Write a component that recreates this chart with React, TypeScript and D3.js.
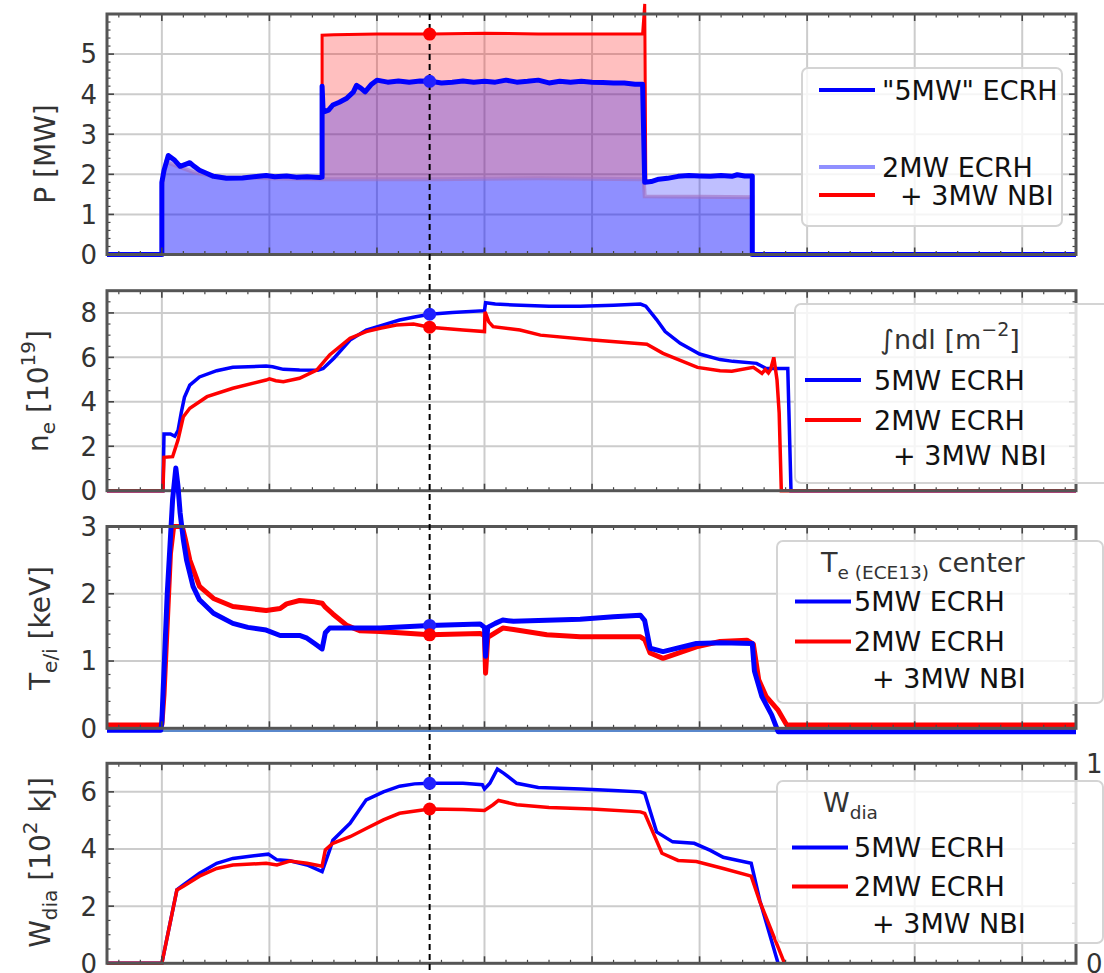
import React from "react";
import * as d3 from "d3";

type Pt = [number, number];

// ---------------- data ----------------
const markerTime = 2.49;
const xMajorTicks = [0, 1, 2, 3, 4, 5, 6, 7, 8];

// Panel 1: heating power [MW]
const pEcrh5: Pt[] = [
  [-0.51, 0], [0, 0], [0.0, 1.8], [0.02, 2.1], [0.06, 2.47], [0.12, 2.35], [0.17, 2.2], [0.22, 2.25],
  [0.26, 2.29], [0.3, 2.2], [0.35, 2.1], [0.42, 2.02], [0.48, 1.95], [0.6, 1.9], [0.75, 1.91],
  [0.9, 1.95], [0.97, 1.97], [1.05, 1.94], [1.16, 1.96], [1.25, 1.93], [1.35, 1.94], [1.47, 1.92],
  [1.49, 1.93], [1.49, 4.2], [1.5, 3.55], [1.55, 3.6], [1.59, 3.73], [1.65, 3.8], [1.72, 3.9],
  [1.78, 4.05], [1.81, 4.22], [1.85, 4.15], [1.89, 4.06], [1.95, 4.25], [2.0, 4.35], [2.1, 4.3],
  [2.2, 4.33], [2.3, 4.3], [2.4, 4.33], [2.5, 4.32], [2.6, 4.28], [2.7, 4.3], [2.8, 4.33], [2.9, 4.3],
  [3.0, 4.32], [3.1, 4.3], [3.2, 4.35], [3.3, 4.3], [3.4, 4.32], [3.5, 4.35], [3.6, 4.28], [3.7, 4.32],
  [3.8, 4.3], [3.9, 4.32], [4.0, 4.3], [4.1, 4.29], [4.2, 4.28], [4.3, 4.28], [4.4, 4.25], [4.47, 4.25],
  [4.49, 1.8], [4.55, 1.82], [4.62, 1.88], [4.7, 1.9], [4.8, 1.95], [4.9, 1.97], [5.0, 1.96], [5.1, 1.95],
  [5.2, 1.97], [5.3, 1.95], [5.35, 1.99], [5.42, 1.96], [5.49, 1.96], [5.49, 0], [8.5, 0],
];
const pEcrh2: Pt[] = [
  [-0.51, 0], [0, 0], [0, 1.7], [0.04, 2.3], [0.1, 2.25], [0.2, 2.15], [0.3, 2.05], [0.45, 1.97],
  [0.6, 1.92], [0.8, 1.92], [1.0, 1.9], [1.49, 1.88], [2.5, 1.88], [3.5, 1.9], [4.48, 1.88],
  [4.49, 1.45], [5.0, 1.44], [5.49, 1.43], [5.49, 0], [8.5, 0],
];
const pTotal2: Pt[] = [
  [1.49, 1.9], [1.49, 5.47], [1.6, 5.48], [2.0, 5.5], [2.5, 5.5], [3.0, 5.52], [3.5, 5.5], [4.0, 5.5],
  [4.47, 5.5], [4.49, 6.25], [4.5, 1.83],
];
const pTicks = [0, 1, 2, 3, 4, 5];

// Panel 2: line integrated density [1e19 m^-2]
const neBlue: Pt[] = [
  [-0.51, 0], [0.01, 0], [0.02, 2.55], [0.08, 2.55], [0.12, 2.45], [0.15, 2.7], [0.18, 3.5], [0.21, 4.2],
  [0.26, 4.75], [0.35, 5.12], [0.51, 5.4], [0.66, 5.55], [0.97, 5.61], [1.03, 5.58], [1.13, 5.46],
  [1.28, 5.43], [1.45, 5.42], [1.5, 5.5], [1.6, 5.96], [1.75, 6.78], [1.9, 7.23], [2.06, 7.46],
  [2.21, 7.68], [2.35, 7.82], [2.49, 7.94], [2.7, 8.02], [3.0, 8.1], [3.01, 8.46], [3.1, 8.4],
  [3.27, 8.36], [3.6, 8.3], [3.89, 8.3], [4.2, 8.35], [4.45, 8.4], [4.5, 8.3], [4.6, 7.7], [4.68, 7.16],
  [4.82, 6.63], [5.0, 6.15], [5.19, 5.9], [5.31, 5.82], [5.53, 5.73], [5.58, 5.6], [5.62, 5.5],
  [5.82, 5.5], [5.85, 0], [8.5, 0],
];
const neRed: Pt[] = [
  [-0.51, 0], [0.01, 0], [0.02, 1.5], [0.1, 1.53], [0.15, 2.28], [0.2, 3.33], [0.26, 3.71], [0.42, 4.23],
  [0.66, 4.61], [0.97, 4.98], [1.0, 5.03], [1.06, 4.95], [1.13, 4.9], [1.28, 5.06], [1.44, 5.43],
  [1.56, 6.11], [1.75, 6.86], [1.9, 7.16], [2.03, 7.31], [2.18, 7.46], [2.34, 7.5], [2.49, 7.36],
  [2.8, 7.23], [3.0, 7.16], [3.005, 8.05], [3.04, 7.6], [3.08, 7.38], [3.33, 7.23], [3.52, 7.0],
  [4.01, 6.78], [4.51, 6.59], [4.66, 6.18], [4.98, 5.55], [5.19, 5.4], [5.3, 5.38], [5.5, 5.55],
  [5.56, 5.35], [5.58, 5.28], [5.61, 5.45], [5.64, 5.3], [5.66, 5.45], [5.69, 6.0], [5.72, 4.98],
  [5.74, 3.5], [5.76, 0], [8.5, 0],
];
const neTicks = [0, 2, 4, 6, 8];

// Panel 3: central electron temperature [keV]
const teBlue: Pt[] = [
  [-0.51, -0.03], [-0.01, -0.03], [0.0, 0.1], [0.05, 2.0], [0.1, 3.4], [0.13, 3.87], [0.15, 3.6],
  [0.17, 3.2], [0.2, 2.8], [0.23, 2.5], [0.29, 2.11], [0.35, 1.91], [0.48, 1.71], [0.66, 1.56],
  [0.8, 1.5], [0.97, 1.46], [1.1, 1.38], [1.28, 1.38], [1.35, 1.34], [1.42, 1.26], [1.49, 1.18],
  [1.52, 1.42], [1.56, 1.49], [1.9, 1.49], [2.03, 1.49], [2.49, 1.53], [2.96, 1.55], [3.0, 1.5],
  [3.01, 1.07], [3.03, 1.5], [3.1, 1.56], [3.17, 1.61], [3.27, 1.59], [3.89, 1.62], [4.2, 1.66],
  [4.45, 1.68], [4.49, 1.6], [4.54, 1.19], [4.66, 1.14], [4.97, 1.26], [5.2, 1.27], [5.49, 1.26],
  [5.51, 0.85], [5.58, 0.47], [5.67, 0.2], [5.73, -0.05], [8.5, -0.05],
];
const teRed: Pt[] = [
  [-0.51, 0.05], [0.0, 0.05], [0.02, 0.5], [0.08, 2.6], [0.11, 3.0], [0.19, 3.0], [0.22, 2.8],
  [0.26, 2.5], [0.35, 2.11], [0.48, 1.93], [0.66, 1.81], [0.97, 1.75], [1.1, 1.78], [1.16, 1.85],
  [1.28, 1.9], [1.42, 1.88], [1.49, 1.86], [1.52, 1.8], [1.59, 1.7], [1.72, 1.53], [1.84, 1.45],
  [2.03, 1.44], [2.49, 1.39], [2.96, 1.41], [3.0, 1.38], [3.01, 0.82], [3.03, 1.35], [3.17, 1.49],
  [3.27, 1.47], [3.58, 1.39], [3.89, 1.36], [4.45, 1.36], [4.49, 1.32], [4.54, 1.12], [4.66, 1.04],
  [4.97, 1.21], [5.19, 1.29], [5.44, 1.31], [5.5, 1.25], [5.55, 0.72], [5.62, 0.47], [5.73, 0.27],
  [5.81, 0.05], [8.5, 0.05],
];
const teZeroLevel = -0.035;
const teTicks = [0, 1, 2, 3];

// Panel 4: diamagnetic energy [1e2 kJ]
const wBlue: Pt[] = [
  [-0.51, 0], [0.0, 0], [0.14, 2.57], [0.2, 2.74], [0.35, 3.15], [0.51, 3.5], [0.66, 3.67], [0.82, 3.75],
  [0.99, 3.82], [1.07, 3.62], [1.19, 3.59], [1.35, 3.44], [1.49, 3.21], [1.56, 3.96], [1.59, 4.31],
  [1.75, 4.9], [1.9, 5.72], [2.06, 6.0], [2.21, 6.2], [2.35, 6.28], [2.49, 6.3], [2.8, 6.3], [2.98, 6.25],
  [3.0, 6.1], [3.05, 6.3], [3.12, 6.8], [3.18, 6.65], [3.3, 6.3], [3.5, 6.15], [3.9, 6.1], [4.2, 6.05],
  [4.45, 6.0], [4.49, 5.95], [4.6, 4.6], [4.75, 4.25], [4.95, 4.2], [5.1, 3.95], [5.22, 3.71],
  [5.48, 3.5], [5.56, 2.2], [5.73, 0],
];
const wRed: Pt[] = [
  [-0.51, 0], [0.0, 0], [0.14, 2.57], [0.2, 2.7], [0.35, 3.05], [0.51, 3.32], [0.66, 3.44], [0.97, 3.5],
  [1.07, 3.44], [1.19, 3.58], [1.35, 3.5], [1.49, 3.4], [1.52, 3.97], [1.59, 4.2], [1.75, 4.43],
  [1.9, 4.72], [2.06, 5.02], [2.21, 5.25], [2.49, 5.4], [2.8, 5.38], [3.0, 5.35], [3.08, 5.55],
  [3.13, 5.7], [3.3, 5.55], [3.6, 5.45], [4.0, 5.4], [4.45, 5.3], [4.49, 5.25], [4.65, 3.85],
  [4.8, 3.6], [4.97, 3.56], [5.22, 3.32], [5.48, 3.05], [5.56, 2.16], [5.79, 0],
];
const wTicks = [0, 2, 4, 6];
const wRightTicks = [0, 1];

// legend texts
const legendP = ['"5MW" ECRH', "2MW ECRH", "+ 3MW NBI"];
const legendShots = ["5MW ECRH", "2MW ECRH", "+ 3MW NBI"];

// ---------------- layout / style ----------------
const FONT = "DejaVu Sans, Verdana, sans-serif";
const X0 = 107;
const X1 = 1076;
const xScale = d3.scaleLinear().domain([-0.51, 8.5]).range([X0, X1]);
const BLUE = "#0000ff";
const RED = "#ff0000";
const GRID = "#cccccc";
const SPINE = "#555555";
const TICKC = "#444444";
const TXT = "#333333";
const LABEL_FS = 28;
const TICK_FS = 26;

function interp(series: Pt[], t: number): number {
  for (let i = 0; i < series.length - 1; i++) {
    const [t0, v0] = series[i];
    const [t1, v1] = series[i + 1];
    if (t >= t0 && t <= t1) {
      if (t1 === t0) return v1;
      return v0 + ((v1 - v0) * (t - t0)) / (t1 - t0);
    }
  }
  return series[series.length - 1][1];
}

function stepRange(lo: number, hi: number, step: number): number[] {
  const out: number[] = [];
  const n0 = Math.ceil(lo / step - 1e-6);
  const n1 = Math.floor(hi / step + 1e-6);
  for (let i = n0; i <= n1; i++) out.push(+(i * step).toFixed(6));
  return out;
}

type Scale = d3.ScaleLinear<number, number>;

function Grid({ y, majors }: { y: Scale; majors: number[] }) {
  const [b, t] = y.range();
  return (
    <g>
      {xMajorTicks.map((v) => (
        <line key={"gx" + v} x1={xScale(v)} x2={xScale(v)} y1={t} y2={b} stroke={GRID} strokeWidth={2} />
      ))}
      {majors.map((v) => (
        <line key={"gy" + v} x1={X0} x2={X1} y1={y(v)} y2={y(v)} stroke={GRID} strokeWidth={2} />
      ))}
    </g>
  );
}

function Frame({
  y, minorStep, majorStep, labels, mirror,
}: {
  y: Scale; minorStep: number; majorStep: number; labels: number[]; mirror: boolean;
}) {
  const [b, t] = y.range();
  const [ymin, ymax] = y.domain();
  const xMinor = stepRange(-0.51, 8.5, 0.2).filter((v) => Math.abs(v - Math.round(v)) > 1e-6);
  const yMajorAll = stepRange(ymin, ymax, majorStep);
  const yMinor = stepRange(ymin, ymax, minorStep).filter(
    (v) => Math.abs(v / majorStep - Math.round(v / majorStep)) > 1e-6
  );
  const ML = 7;
  const mL = 3.5;
  const els: JSX.Element[] = [];
  xMajorTicks.forEach((v) => {
    const x = xScale(v);
    els.push(<line key={"xt" + v} x1={x} x2={x} y1={t} y2={t + ML} stroke={TICKC} strokeWidth={1.6} />);
    els.push(<line key={"xb" + v} x1={x} x2={x} y1={b} y2={b - ML} stroke={TICKC} strokeWidth={1.6} />);
  });
  xMinor.forEach((v) => {
    const x = xScale(v);
    els.push(<line key={"xmt" + v} x1={x} x2={x} y1={t} y2={t + mL} stroke={TICKC} strokeWidth={1.2} />);
    els.push(<line key={"xmb" + v} x1={x} x2={x} y1={b} y2={b - mL} stroke={TICKC} strokeWidth={1.2} />);
  });
  yMajorAll.forEach((v) => {
    const yy = y(v);
    els.push(<line key={"yl" + v} x1={X0} x2={X0 + ML} y1={yy} y2={yy} stroke={TICKC} strokeWidth={1.6} />);
    if (mirror) els.push(<line key={"yr" + v} x1={X1} x2={X1 - ML} y1={yy} y2={yy} stroke={TICKC} strokeWidth={1.6} />);
  });
  yMinor.forEach((v) => {
    const yy = y(v);
    els.push(<line key={"yml" + v} x1={X0} x2={X0 + mL} y1={yy} y2={yy} stroke={TICKC} strokeWidth={1.2} />);
    if (mirror) els.push(<line key={"ymr" + v} x1={X1} x2={X1 - mL} y1={yy} y2={yy} stroke={TICKC} strokeWidth={1.2} />);
  });
  return (
    <g>
      {els}
      <rect x={X0} y={t} width={X1 - X0} height={b - t} fill="none" stroke={SPINE} strokeWidth={3} />
      {labels.map((v) => (
        <text key={"lab" + v} x={97} y={y(v)} dy="0.36em" textAnchor="end" fontSize={TICK_FS} fill={TXT}>
          {v}
        </text>
      ))}
    </g>
  );
}

function LegendBox({ x, y, w, h }: { x: number; y: number; w: number; h: number }) {
  return (
    <rect x={x} y={y} width={w} height={h} rx={6} ry={6} fill="#ffffff" fillOpacity={0.8}
      stroke="#d4d4d4" strokeWidth={2} />
  );
}

function LegendRow({ x, y, color, text, tx, lw = 4, opacity = 1 }: {
  x: number; y: number; color: string | null; text: string; tx: number; lw?: number; opacity?: number;
}) {
  return (
    <g>
      {color && (
        <line x1={x} x2={x + 56} y1={y} y2={y} stroke={color} strokeWidth={lw} strokeOpacity={opacity} />
      )}
      <text x={tx} y={y} dy="0.36em" fontSize={27} fill="#111">
        {text}
      </text>
    </g>
  );
}

export default function App() {
  const yP = d3.scaleLinear().domain([0, 6]).range([254.5, 14]);
  const yN = d3.scaleLinear().domain([0, 9]).range([490.7, 290.7]);
  const yT = d3.scaleLinear().domain([0, 3]).range([728.3, 526.5]);
  const yW = d3.scaleLinear().domain([0, 7]).range([963.3, 763.3]);
  const yWr = d3.scaleLinear().domain([0, 1]).range([963.3, 763.3]);

  const line = (y: Scale) =>
    d3.line<Pt>().x((d) => xScale(d[0])).y((d) => y(d[1]));
  const areaZero = (y: Scale) =>
    d3.area<Pt>().x((d) => xScale(d[0])).y0(y(0)).y1((d) => y(d[1]));

  // NBI power fill: between 2MW ECRH and total, while NBI is on
  const nbiPts: Pt[] = pTotal2.slice(1, pTotal2.length - 1).map((d) => [d[0], Math.min(d[1], 5.52)] as Pt);
  const nbiArea = d3
    .area<Pt>()
    .x((d) => xScale(d[0]))
    .y0((d) => yP(interp(pEcrh2, d[0])))
    .y1((d) => yP(d[1]));

  const xm = xScale(markerTime);
  const dots = [
    { y: yP(interp(pTotal2, markerTime)), c: RED },
    { y: yP(interp(pEcrh5, markerTime)), c: "#2020ff" },
    { y: yN(interp(neBlue, markerTime)), c: "#2020ff" },
    { y: yN(interp(neRed, markerTime)), c: RED },
    { y: yT(interp(teBlue, markerTime)), c: "#2020ff" },
    { y: yT(interp(teRed, markerTime)), c: RED },
    { y: yW(interp(wBlue, markerTime)), c: "#2020ff" },
    { y: yW(interp(wRed, markerTime)), c: RED },
  ];

  const wrMinor = stepRange(0, 1, 0.2).filter((v) => v > 0 && v < 1);

  return (
    <svg width={1104} height={973} viewBox="0 0 1104 973"
      style={{ position: "absolute", left: 0, top: 0, background: "#fff" }} fontFamily={FONT}>
      <rect x={0} y={0} width={1104} height={973} fill="#fff" />

      {/* ---------- Panel 1: P ---------- */}
      <Grid y={yP} majors={[1, 2, 3, 4, 5]} />
      <path d={nbiArea(nbiPts) || ""} fill={RED} fillOpacity={0.25} />
      <path d={areaZero(yP)(pEcrh5) || ""} fill={BLUE} fillOpacity={0.25} />
      <path d={areaZero(yP)(pEcrh2) || ""} fill={BLUE} fillOpacity={0.25} />
      <path d={line(yP)(pEcrh2) || ""} fill="none" stroke="#a070c0" strokeOpacity={0.6} strokeWidth={4} />
      <path d={line(yP)(pTotal2) || ""} fill="none" stroke={RED} strokeWidth={3} />
      <path d={line(yP)(pEcrh5) || ""} fill="none" stroke={BLUE} strokeWidth={5} strokeLinejoin="round" />
      <Frame y={yP} majorStep={1} minorStep={0.2} labels={pTicks} mirror={true} />
      <text transform={`translate(55,154) rotate(-90)`} textAnchor="middle" fontSize={LABEL_FS} fill={TXT}>
        P [MW]
      </text>

      {/* ---------- Panel 2: ne ---------- */}
      <Grid y={yN} majors={[2, 4, 6, 8]} />
      <path d={line(yN)(neBlue) || ""} fill="none" stroke={BLUE} strokeWidth={3.5} />
      <path d={line(yN)(neRed) || ""} fill="none" stroke={RED} strokeWidth={3.5} />
      <Frame y={yN} majorStep={2} minorStep={0.5} labels={neTicks} mirror={true} />
      <text transform={`translate(48,391) rotate(-90)`} textAnchor="middle" fontSize={LABEL_FS} fill={TXT}>
        <tspan>n</tspan>
        <tspan fontSize={20} dy={7}>e</tspan>
        <tspan dy={-7}> [10</tspan>
        <tspan fontSize={20} dy={-13}>19</tspan>
        <tspan dy={13}>]</tspan>
      </text>

      {/* ---------- Panel 3: Te ---------- */}
      <Grid y={yT} majors={[1, 2]} />
      <line x1={X0} x2={X1} y1={yT(teZeroLevel)} y2={yT(teZeroLevel)} stroke="#5a88cc" strokeWidth={2.5} />
      <path d={line(yT)(teRed) || ""} fill="none" stroke={RED} strokeWidth={5} strokeLinejoin="round" />
      <path d={line(yT)(teBlue) || ""} fill="none" stroke={BLUE} strokeWidth={5} strokeLinejoin="round" />
      <Frame y={yT} majorStep={1} minorStep={0.2} labels={teTicks} mirror={true} />
      <text transform={`translate(50,628) rotate(-90)`} textAnchor="middle" fontSize={LABEL_FS} fill={TXT}>
        <tspan>T</tspan>
        <tspan fontSize={20} dy={7}>e/i</tspan>
        <tspan dy={-7}> [keV]</tspan>
      </text>

      {/* ---------- Panel 4: Wdia ---------- */}
      <Grid y={yW} majors={[2, 4, 6]} />
      <path d={line(yW)(wBlue) || ""} fill="none" stroke={BLUE} strokeWidth={3.5} />
      <path d={line(yW)(wRed) || ""} fill="none" stroke={RED} strokeWidth={3.5} />
      <Frame y={yW} majorStep={2} minorStep={0.5} labels={wTicks} mirror={false} />
      {wrMinor.map((v) => (
        <line key={"wr" + v} x1={X1} x2={X1 - 4} y1={yWr(v)} y2={yWr(v)} stroke={TICKC} strokeWidth={1.3} />
      ))}
      {wRightTicks.map((v) => (
        <text key={"wrl" + v} x={1086} y={yWr(v)} dy="0.36em" fontSize={TICK_FS} fill={TXT}>{v}</text>
      ))}
      <text transform={`translate(50,862.5) rotate(-90)`} textAnchor="middle" fontSize={LABEL_FS} fill={TXT}>
        <tspan>W</tspan>
        <tspan fontSize={20} dy={7}>dia</tspan>
        <tspan dy={-7}> [10</tspan>
        <tspan fontSize={20} dy={-13}>2</tspan>
        <tspan dy={13}> kJ]</tspan>
      </text>

      {/* ---------- time marker ---------- */}
      <line x1={xm} x2={xm} y1={14} y2={973} stroke="#000" strokeWidth={2} strokeDasharray="6,4" />
      {dots.map((d, i) => (
        <circle key={"dot" + i} cx={xm} cy={d.y} r={6.5} fill={d.c} />
      ))}

      {/* ---------- legends ---------- */}
      <LegendBox x={802} y={68} w={260} h={158} />
      <LegendRow x={819} y={90} color={BLUE} text={legendP[0]} tx={882} />
      <LegendRow x={819} y={167} color="#9090ff" text={legendP[1]} tx={882} />
      <LegendRow x={819} y={195} color={RED} text={legendP[2]} tx={900} />

      <LegendBox x={795} y={304} w={316} h={179} />
      <text x={880} y={349} fontSize={27} fill={TXT}>
        <tspan>∫ndl [m</tspan>
        <tspan fontSize={19} dy={-13}>−2</tspan>
        <tspan dy={13}>]</tspan>
      </text>
      <LegendRow x={805} y={380} color={BLUE} text={legendShots[0]} tx={874} />
      <LegendRow x={805} y={420} color={RED} text={legendShots[1]} tx={874} />
      <LegendRow x={805} y={455} color={null} text={legendShots[2]} tx={893} />

      <LegendBox x={777} y={541} w={326} h={162} />
      <text x={821} y={571.5} fontSize={27} fill={TXT}>
        <tspan>T</tspan>
        <tspan fontSize={18.5} dy={7.5}>e (ECE13)</tspan>
        <tspan dy={-7.5}> center</tspan>
      </text>
      <LegendRow x={795} y={601.5} color={BLUE} text={legendShots[0]} tx={854} />
      <LegendRow x={795} y={641.5} color={RED} text={legendShots[1]} tx={854} />
      <LegendRow x={795} y={678} color={null} text={legendShots[2]} tx={872} />

      <LegendBox x={777} y={781} w={326} h={162} />
      <text x={823} y={811.5} fontSize={27} fill={TXT}>
        <tspan>W</tspan>
        <tspan fontSize={18.5} dy={7}>dia</tspan>
      </text>
      <LegendRow x={792} y={847.5} color={BLUE} text={legendShots[0]} tx={854} />
      <LegendRow x={792} y={886.5} color={RED} text={legendShots[1]} tx={854} />
      <LegendRow x={792} y={923} color={null} text={legendShots[2]} tx={872} />
    </svg>
  );
}
